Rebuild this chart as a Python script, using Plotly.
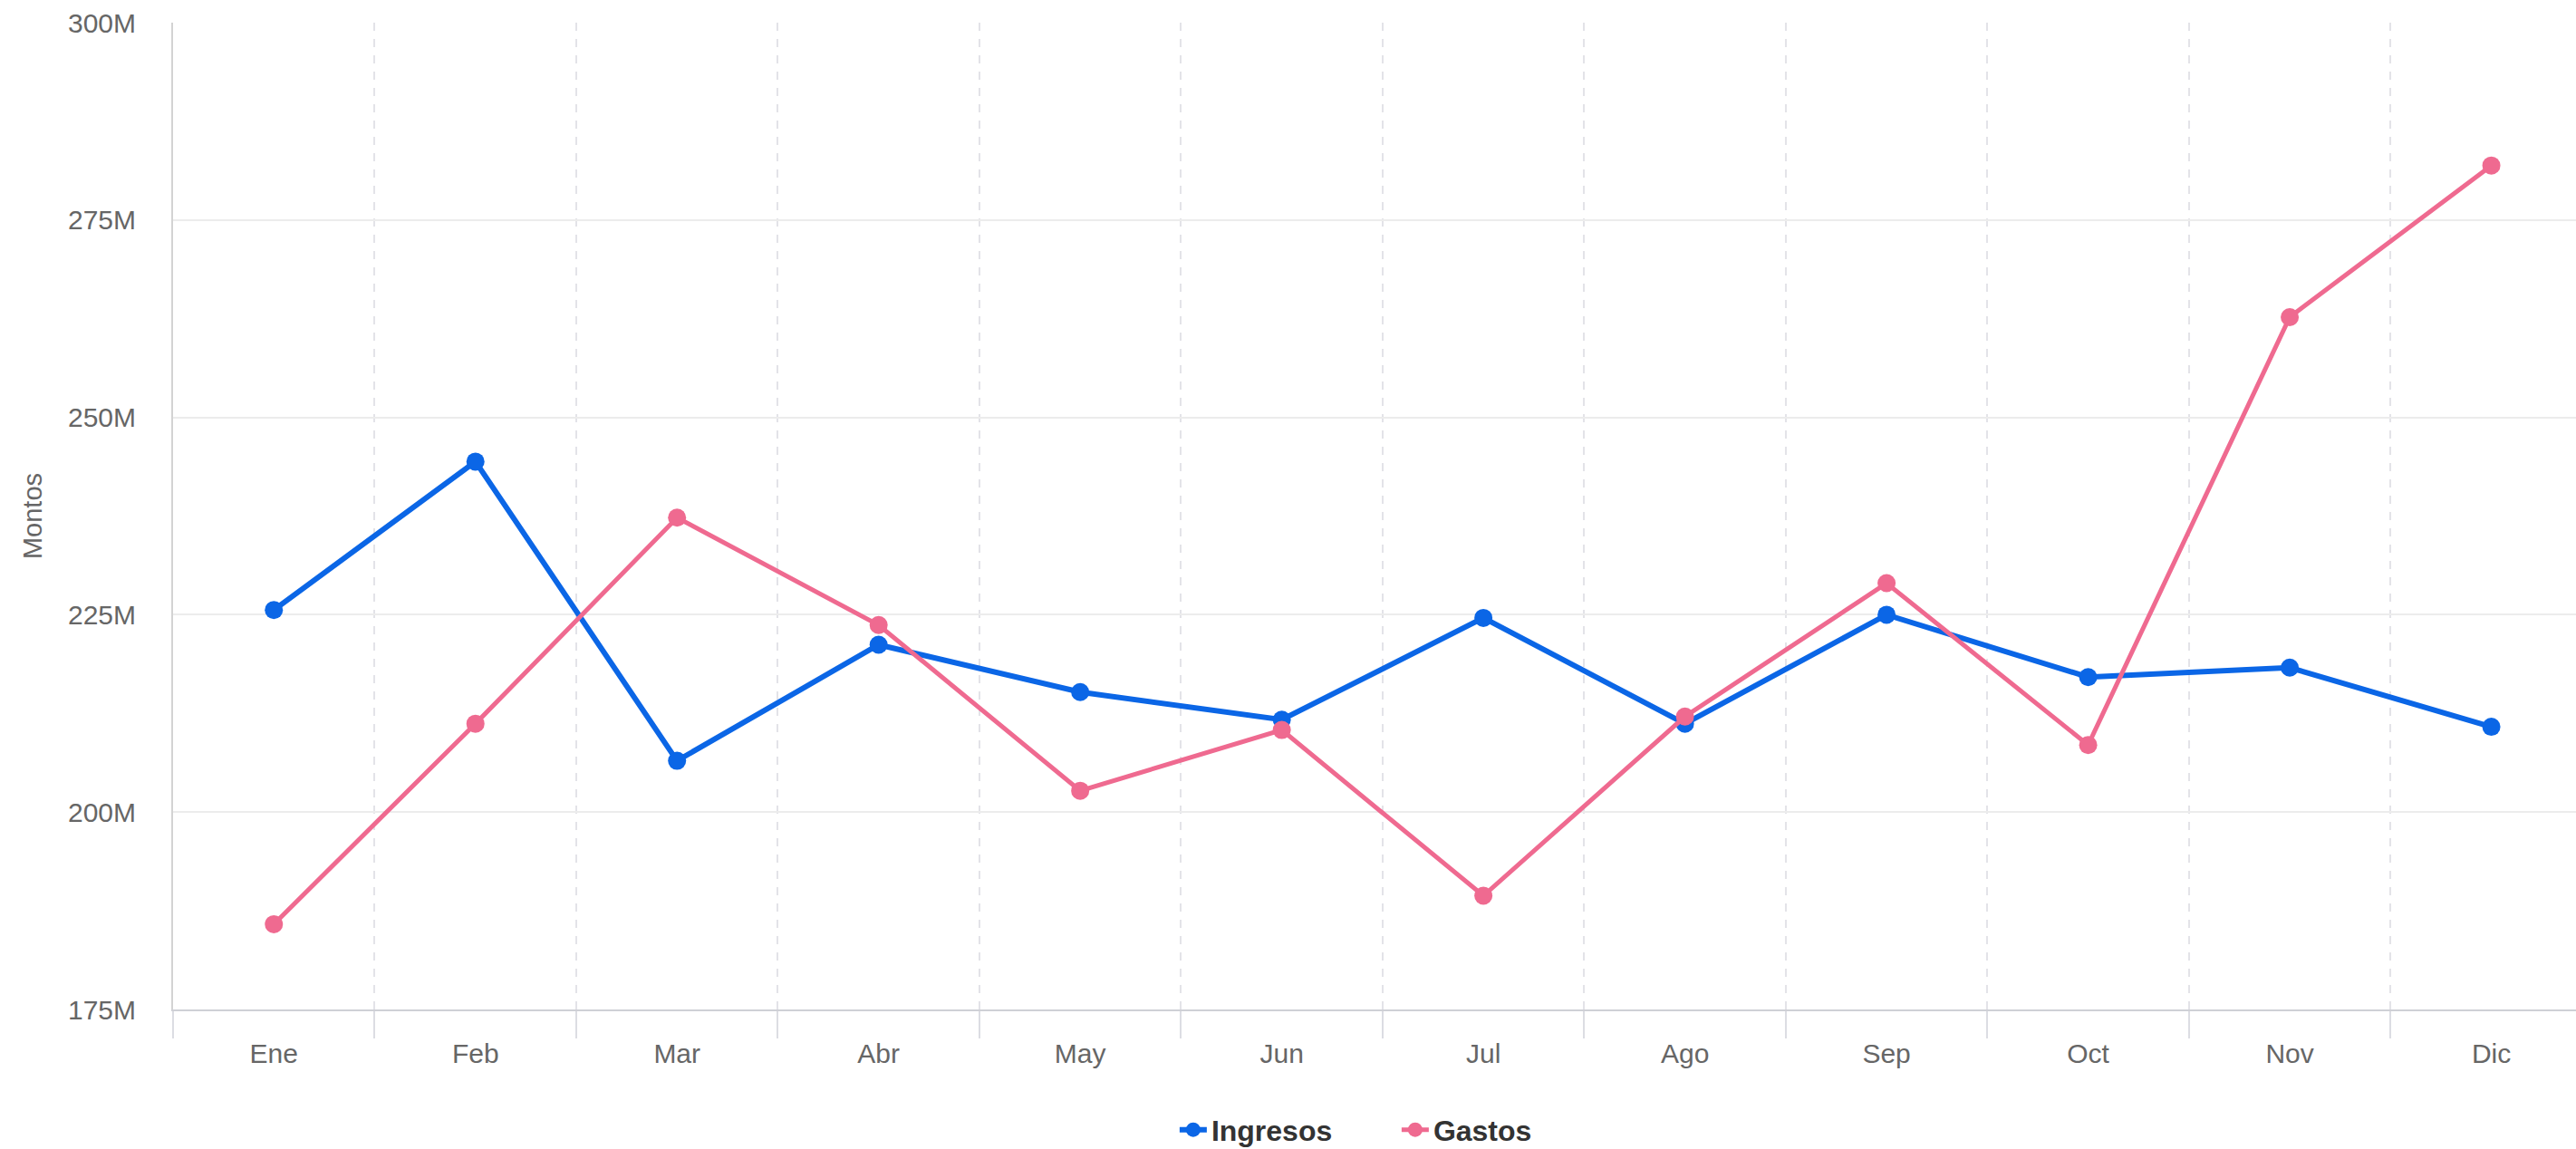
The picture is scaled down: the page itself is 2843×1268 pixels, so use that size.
import plotly.graph_objects as go

meses = ["Ene", "Feb", "Mar", "Abr", "May", "Jun", "Jul", "Ago", "Sep", "Oct", "Nov", "Dic"]
ingresos = [225.6e6, 244.4e6, 206.5e6, 221.2e6, 215.2e6, 211.7e6, 224.6e6, 211.2e6, 225.0e6, 217.1e6, 218.3e6, 210.8e6]
gastos = [185.8e6, 211.2e6, 237.3e6, 223.7e6, 202.7e6, 210.4e6, 189.4e6, 212.1e6, 229.0e6, 208.5e6, 262.7e6, 281.9e6]
y_ticks = [175e6, 200e6, 225e6, 250e6, 275e6, 300e6]

fig = go.Figure()
fig.add_trace(go.Scatter(
    x=meses, y=ingresos, name="Ingresos", mode="lines+markers",
    line=dict(color="#0b66e6", width=6),
    marker=dict(color="#0b66e6", size=20),
))
fig.add_trace(go.Scatter(
    x=meses, y=gastos, name="Gastos", mode="lines+markers",
    line=dict(color="#ef6a90", width=5),
    marker=dict(color="#ef6a90", size=20),
))

fig.update_layout(
    width=2843, height=1268,
    margin=dict(l=191, r=0, t=25, b=154, autoexpand=False),
    paper_bgcolor="white", plot_bgcolor="white",
    font=dict(family="Liberation Sans, Arial, sans-serif", size=29, color="#666"),
    legend=dict(
        orientation="h", x=0.417, xanchor="left", y=-0.122, yanchor="middle",
        font=dict(size=32, color="#333", family="Liberation Sans, Arial, sans-serif", weight="bold"),
        entrywidth=200, entrywidthmode="pixels",
    ),
    showlegend=True,
)
fig.update_xaxes(
    range=[-0.5, 11.42], automargin=False,
    tickson="boundaries", ticks="outside", ticklen=30, tickcolor="#dcdde3", tickwidth=2,
    showgrid=True, gridcolor="#e3e3e8", griddash="dash", gridwidth=2,
    showline=True, linecolor="#cfd0d6", linewidth=2,
    tickfont=dict(size=30, color="#666"),
    ticklabelstandoff=21,
)
fig.update_yaxes(
    range=[175e6, 300e6], tickvals=y_ticks, tickformat="~s", automargin=False,
    showgrid=True, gridcolor="#ececec", gridwidth=2,
    showline=True, linecolor="#d3d3d3", linewidth=2,
    zeroline=False,
    tickfont=dict(size=30, color="#666"),
    ticklabelstandoff=33,
    title=dict(text="Montos", font=dict(size=29, color="#666"), standoff=20),
)

fig.write_html(
    "out.html",
    config={"displayModeBar": False},
    post_script="document.body.style.margin='0';document.body.style.overflow='hidden';",
)
